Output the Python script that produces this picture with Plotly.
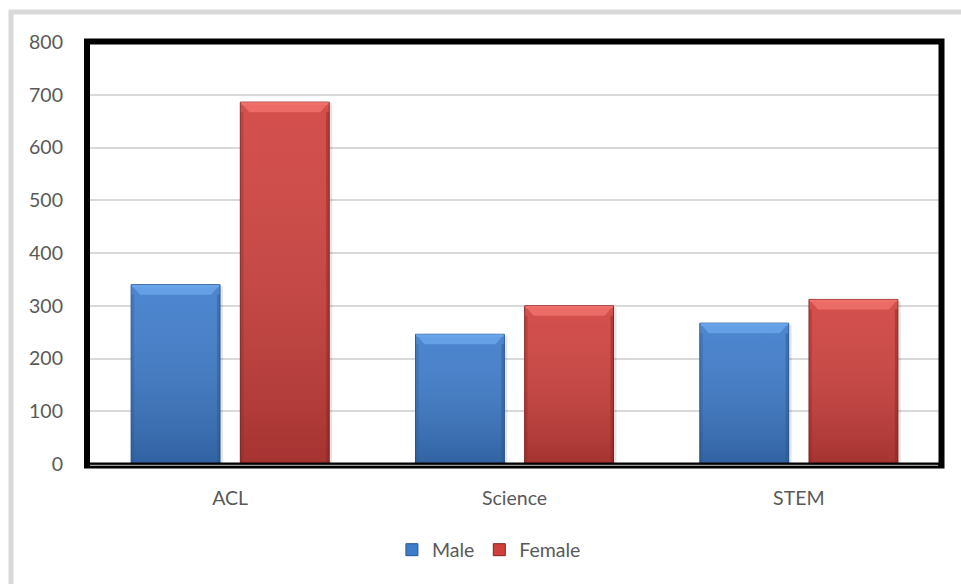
import plotly.graph_objects as go

categories = ["ACL", "Science", "STEM"]
male = [340, 246, 267]
female = [686, 300, 312]
y_ticks = [0, 100, 200, 300, 400, 500, 600, 700, 800]

W, H = 961, 584
M_L, M_R, M_T, M_B = 88, 20, 42, 120
plot_w = W - M_L - M_R
plot_h = H - M_T - M_B

BARGAP = 0.232
BARGROUPGAP = 0.186
X_RANGE = [-0.5, 2.5]
Y_RANGE = [0, 800]

px_per_x = plot_w / (X_RANGE[1] - X_RANGE[0])
px_per_y = plot_h / (Y_RANGE[1] - Y_RANGE[0])

xs = list(range(len(categories)))

# name, values, base colour, bevel highlight, edge shade, side of the group
series = [
    ("Male", male, "#3D7BCB", "#6AA5EA", "#28578F", -1),
    ("Female", female, "#CF403D", "#F0706B", "#862421", 1),
]

fig = go.Figure()
for name, vals, base, light, dark, side in series:
    fig.add_trace(go.Bar(
        x=xs, y=vals, name=name,
        marker=dict(color=base, line=dict(color=dark, width=1)),
    ))

slot = (1 - BARGAP) / 2
bw = slot * (1 - BARGROUPGAP)
bev_x = 9 / px_per_x
bev_y = 10 / px_per_y
edge_x = 3 / px_per_x
shadow_x = 3 / px_per_x

# vertical shading over each bar: lighter at the top, darker toward the base
for name, vals, base, light, dark, side in series:
    for x, v in zip(xs, vals):
        c = x + side * slot / 2
        xl, xr = c - bw / 2, c + bw / 2
        fig.add_trace(go.Scatter(
            x=[xl, xr, xr, xl, xl], y=[0, 0, v, v, 0],
            mode="none", fill="toself",
            fillgradient=dict(type="vertical",
                              colorscale=[[0, "rgba(0,0,0,0.2)"],
                                          [1, "rgba(255,255,255,0.08)"]]),
            showlegend=False, hoverinfo="skip",
        ))

shapes = []
for name, vals, base, light, dark, side in series:
    for x, v in zip(xs, vals):
        c = x + side * slot / 2
        xl, xr = c - bw / 2, c + bw / 2
        # soft drop shadow on the right of the bar
        shapes.append(dict(type="rect", xref="x", yref="y",
                           x0=xr, x1=xr + shadow_x, y0=0, y1=v - 2 / px_per_y,
                           fillcolor="rgba(0,0,0,0.10)", line=dict(width=0),
                           layer="above"))
        # top bevel
        shapes.append(dict(
            type="path", xref="x", yref="y",
            path=f"M {xl},{v} L {xr},{v} L {xr - bev_x},{v - bev_y} L {xl + bev_x},{v - bev_y} Z",
            fillcolor=light, opacity=0.85, line=dict(width=0), layer="above"))
        shapes.append(dict(type="line", xref="x", yref="y",
                           x0=xl + 1 / px_per_x, x1=xr - 1 / px_per_x,
                           y0=v - 1.5 / px_per_y, y1=v - 1.5 / px_per_y,
                           line=dict(color=light, width=2), layer="above"))
        # side edges
        shapes.append(dict(type="rect", xref="x", yref="y",
                           x0=xl, x1=xl + edge_x, y0=0, y1=v - bev_y,
                           fillcolor=dark, opacity=0.3, line=dict(width=0),
                           layer="above"))
        shapes.append(dict(type="rect", xref="x", yref="y",
                           x0=xr - edge_x, x1=xr, y0=0, y1=v - bev_y,
                           fillcolor=dark, opacity=0.45, line=dict(width=0),
                           layer="above"))


def px_x(p):
    return (p - M_L) / plot_w


def px_y(p):
    return (M_T + plot_h - p) / plot_h


# plot frame: thick black border with a double rule along the base
shapes.append(dict(type="rect", xref="paper", yref="paper",
                   x0=px_x(87), x1=px_x(941.5), y0=px_y(465.5), y1=px_y(41.5),
                   line=dict(color="black", width=6), layer="above"))
shapes.append(dict(type="line", xref="paper", yref="paper",
                   x0=px_x(90), x1=px_x(938), y0=px_y(465.3), y1=px_y(465.3),
                   line=dict(color="#BFBFBF", width=1), layer="above"))
# outer chart border
shapes.append(dict(type="rect", xref="paper", yref="paper",
                   x0=px_x(11), x1=px_x(W + 20), y0=px_y(H + 20), y1=px_y(12),
                   line=dict(color="#D9D9D9", width=5), layer="below"))

font = dict(family="Lato, 'Open Sans', sans-serif", size=19.5, color="#595959")

fig.update_layout(
    width=W, height=H,
    margin=dict(l=M_L, r=M_R, t=M_T, b=M_B),
    paper_bgcolor="white", plot_bgcolor="white",
    barmode="group", bargap=BARGAP, bargroupgap=BARGROUPGAP,
    font=font,
    showlegend=True,
    legend=dict(orientation="h", x=0.47, xanchor="center", y=px_y(550), yanchor="middle",
                font=font, itemwidth=30, traceorder="normal"),
    shapes=shapes,
    xaxis=dict(range=X_RANGE, tickvals=xs, ticktext=categories, showgrid=False,
               zeroline=False, showline=False, ticks="", ticklabelstandoff=20),
    yaxis=dict(range=Y_RANGE, tickvals=y_ticks, showgrid=True, gridcolor="#D9D9D9",
               gridwidth=1.5, zeroline=False, showline=False, ticks="",
               ticklabelstandoff=24),
)

fig.write_html("out.html")
